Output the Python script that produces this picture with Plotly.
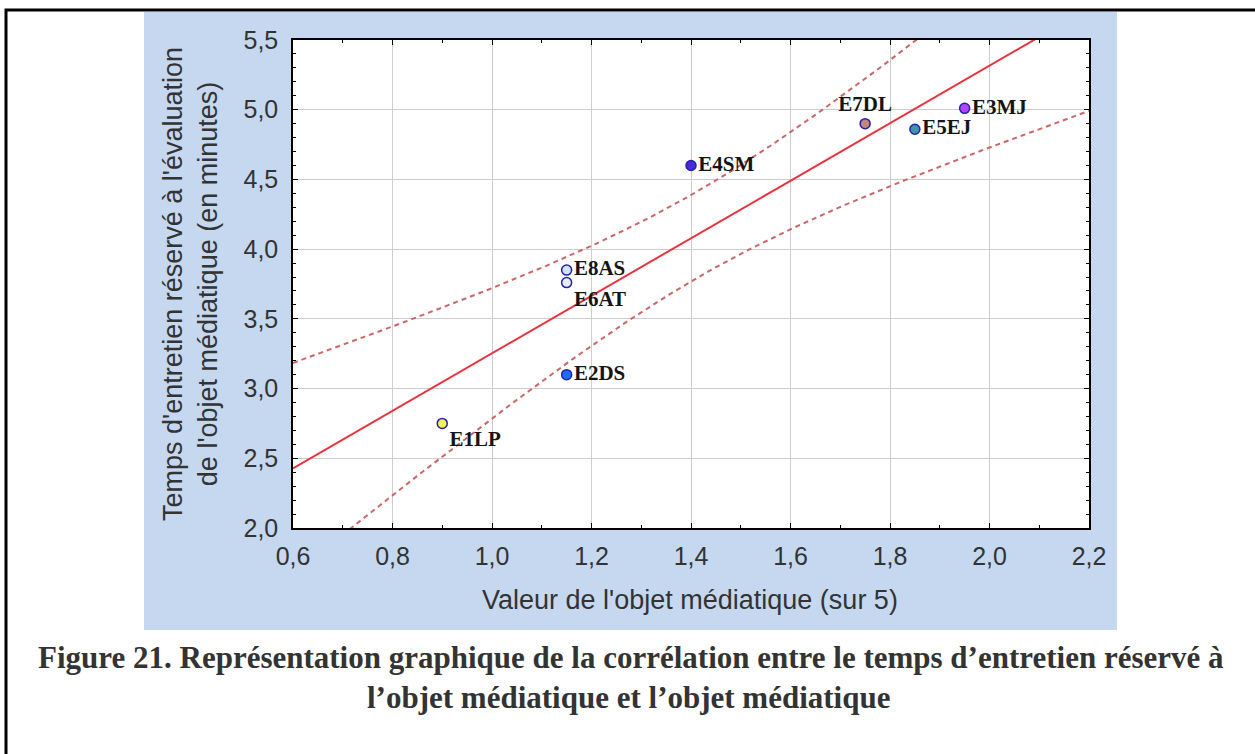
import numpy as np
import plotly.graph_objects as go

# ---- data ----
labels = ["E1LP", "E2DS", "E8AS", "E6AT", "E4SM", "E7DL", "E5EJ", "E3MJ"]
valeur = [0.90, 1.15, 1.15, 1.15, 1.40, 1.75, 1.85, 1.95]
temps = [2.75, 3.10, 3.85, 3.76, 4.60, 4.90, 4.86, 5.01]
fills = ["#f2f25a", "#1f6dff", "#d4e2ff", "#e6eeff", "#4a28dc", "#c4857a", "#3f93a8", "#b044ff"]
text_pos = ["bottom right", "middle right", "middle right", "bottom right",
            "middle right", "top center", "middle right", "middle right"]
x_ticks = [0.6, 0.8, 1.0, 1.2, 1.4, 1.6, 1.8, 2.0, 2.2]
y_ticks = [2.0, 2.5, 3.0, 3.5, 4.0, 4.5, 5.0, 5.5]
T_CRIT = 2.4469  # Student t, 95 %, df = 6

# ---- regression + 95% confidence band ----
x = np.array(valeur)
y = np.array(temps)
n = len(x)
slope, intercept = np.polyfit(x, y, 1)
res = y - (intercept + slope * x)
s = np.sqrt(np.sum(res ** 2) / (n - 2))
sxx = np.sum((x - x.mean()) ** 2)
xg = np.linspace(0.6, 2.2, 200)
yg = intercept + slope * xg
half = T_CRIT * s * np.sqrt(1 / n + (xg - x.mean()) ** 2 / sxx)

fig = go.Figure()
dash_style = dict(color="rgba(200,95,95,0.95)", width=2, dash="5px,4px")
fig.add_trace(go.Scatter(x=xg, y=yg + half, mode="lines", line=dash_style, hoverinfo="skip"))
fig.add_trace(go.Scatter(x=xg, y=yg - half, mode="lines", line=dash_style, hoverinfo="skip"))
fig.add_trace(go.Scatter(x=xg, y=yg, mode="lines", line=dict(color="#e8343e", width=2), hoverinfo="skip"))
fig.add_trace(go.Scatter(
    x=valeur, y=temps, mode="markers+text", text=labels, textposition=text_pos,
    textfont=dict(family="Liberation Serif", size=21, color="#141414", weight="bold"),
    marker=dict(size=10, color=fills, line=dict(color="#2323a6", width=1.5)),
    cliponaxis=False,
))

# ---- geometry (pixels) ----
W, H = 1255, 754
L, R, T, B = 293, 1089, 40, 528
pw, ph = R - L, B - T
def px(v):
    return (v - L) / pw
def py(v):
    return (B - v) / ph

blue = "#c5d8ef"
panel = (144, 1117, 12, 630)
shapes = []
for (a, b, c, d) in [
    (panel[0], panel[1], panel[2], T),
    (panel[0], panel[1], B, panel[3]),
    (panel[0], L, T, B),
    (R, panel[1], T, B),
]:
    shapes.append(dict(type="rect", xref="paper", yref="paper",
                       x0=px(a), x1=px(b), y0=py(d), y1=py(c),
                       fillcolor=blue, line=dict(width=0), layer="below"))
shapes.append(dict(type="rect", xref="paper", yref="paper",
                   x0=px(6), x1=px(1275), y0=py(775), y1=py(10),
                   fillcolor="rgba(0,0,0,0)", line=dict(color="black", width=3)))

tick_font = dict(family="Liberation Sans", size=25, color="#333333")
title_font = dict(family="Liberation Sans", size=27, color="#333333")
cap_font = dict(family="Liberation Serif", size=31, color="#333333")
center = dict(xref="paper", yref="paper", showarrow=False, xanchor="center", yanchor="middle")
annotations = [
    dict(text="Valeur de l'objet médiatique (sur 5)", x=px(690), y=py(600),
         font=title_font, **center),
    dict(text="Temps d'entretien réservé à l'évaluation<br>de l'objet médiatique (en minutes)",
         x=px(190), y=py(284), textangle=-90, font=title_font, **center),
    dict(text="<b>Figure 21. Représentation graphique de la corrélation entre le temps d’entretien réservé à</b>",
         x=px(631), y=py(657), font=cap_font, **center),
    dict(text="<b>l’objet médiatique et l’objet médiatique</b>",
         x=px(628), y=py(697), font=cap_font, **center),
]

common = dict(showline=True, linecolor="black", linewidth=1.5, mirror="ticks",
              ticks="inside", ticklen=5, tickcolor="black", tickwidth=1,
              showgrid=True, gridcolor="#cdcdcd", gridwidth=1, zeroline=False,
              tickfont=tick_font, tickformat=".1f")
fig.update_xaxes(range=[0.6, 2.2], tickvals=x_ticks, ticklabelstandoff=5, **common,
                 minor=dict(dtick=0.1, ticks="inside", ticklen=3, tickcolor="black", showgrid=False))
fig.update_yaxes(range=[2.0, 5.5], tickvals=y_ticks, ticklabelstandoff=8, **common,
                 minor=dict(dtick=0.1, ticks="inside", ticklen=3, tickcolor="black", showgrid=False))

fig.update_layout(
    width=W, height=H, autosize=False,
    margin=dict(l=L, r=W - R, t=T, b=H - B),
    paper_bgcolor="white", plot_bgcolor="white",
    showlegend=False, separators=", ",
    shapes=shapes, annotations=annotations,
)
fig.write_html("out.html", config=dict(displayModeBar=False),
               post_script="document.body.style.margin='0';document.body.style.overflow='hidden';")
